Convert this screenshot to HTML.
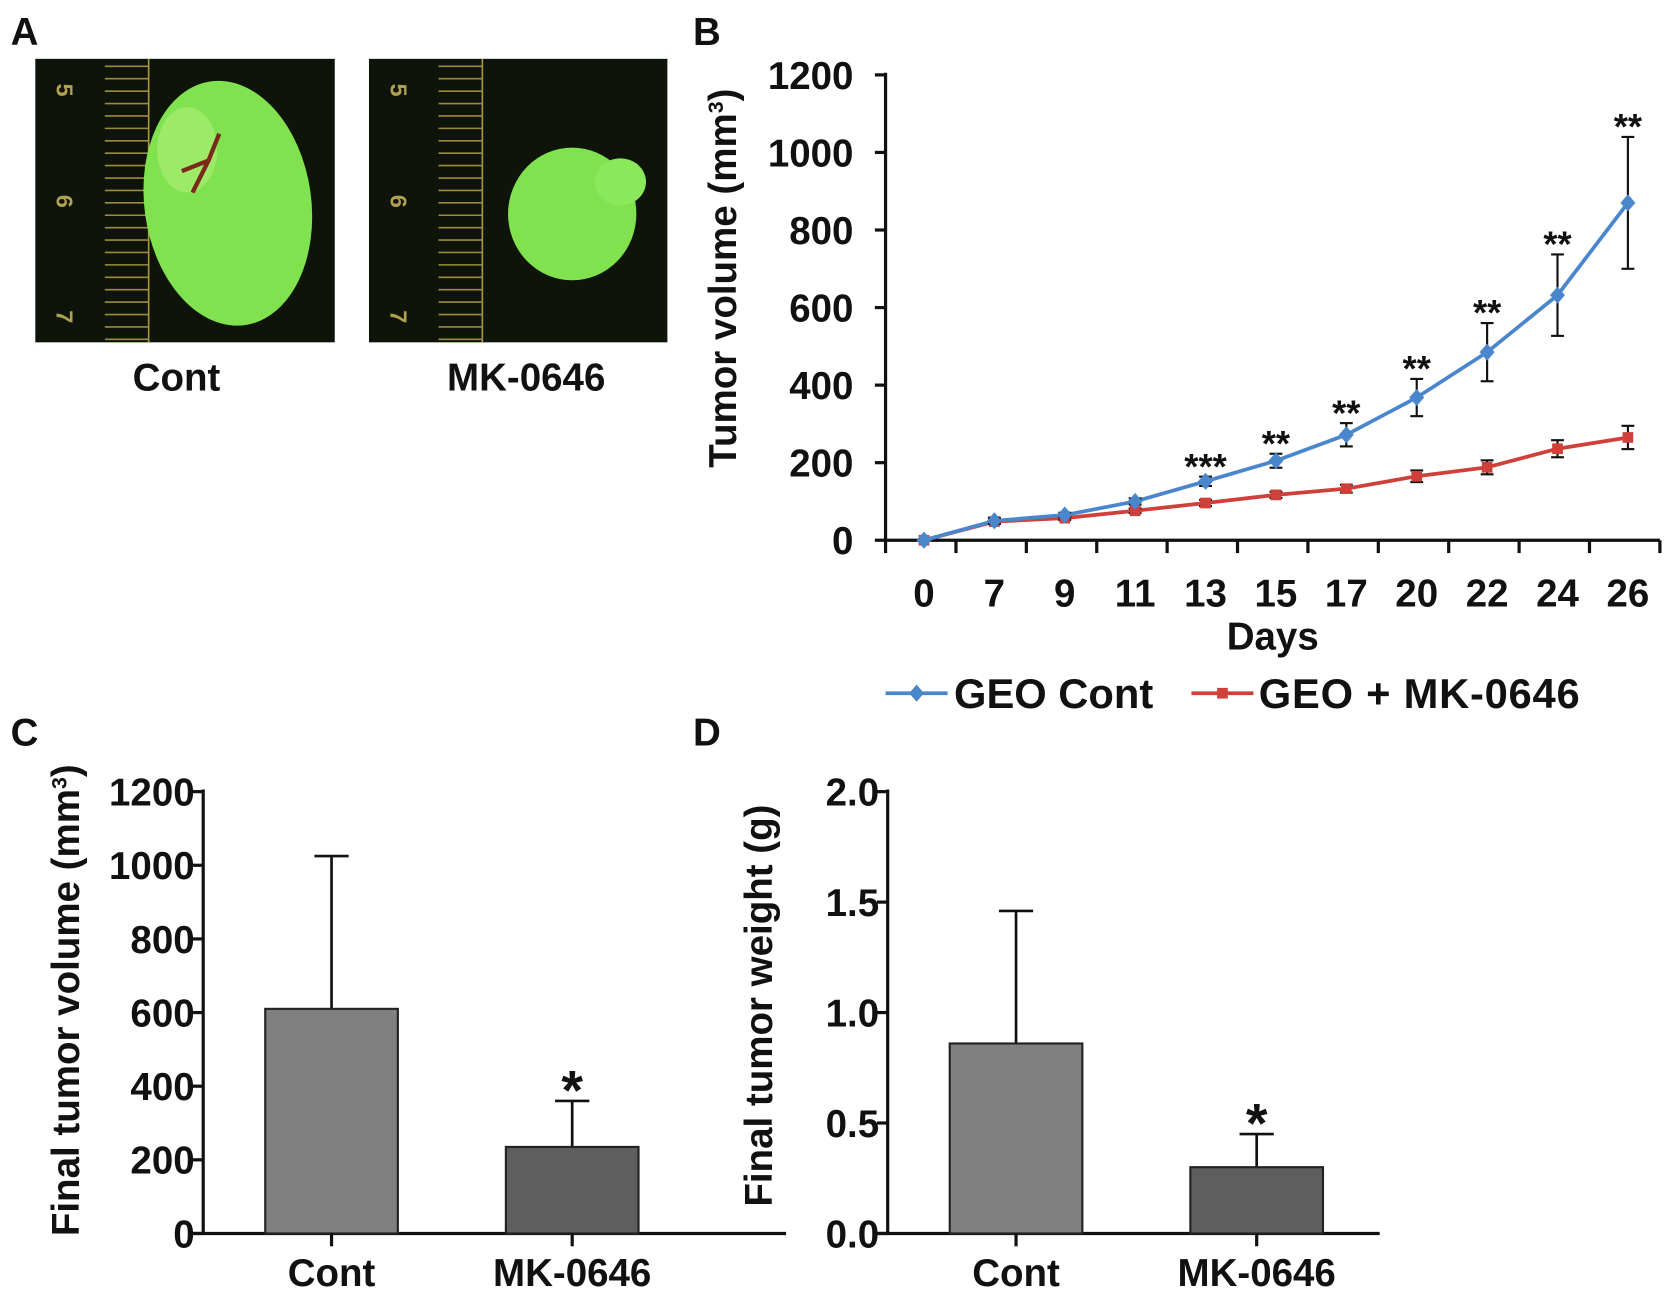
<!DOCTYPE html>
<html><head><meta charset="utf-8"><style>
html,body{margin:0;padding:0;background:#fff}
svg{display:block}
text{font-family:"Liberation Sans",Arial,sans-serif;font-weight:bold;fill:#111}
</style></head><body>
<svg id="fig" width="1677" height="1303" viewBox="0 0 1568 1218" preserveAspectRatio="none" xmlns="http://www.w3.org/2000/svg">
<g font-size="36">
<text x="10" y="42">A</text>
<text x="648" y="42">B</text>
<text x="10" y="697">C</text>
<text x="648" y="697">D</text>
</g>
<g>
<rect x="33" y="55" width="280" height="265" fill="#0f140b"/>
<g id="ruler1"></g>
<ellipse cx="213" cy="190" rx="78" ry="115" fill="#7fe24e" transform="rotate(-8 213 190)"/>
<ellipse cx="175" cy="140" rx="28" ry="40" fill="#b0f07a" opacity="0.6"/>
<path d="M180 180 L195 150 L205 125 M195 150 L170 160" stroke="#7a2a18" stroke-width="4" fill="none"/>
</g>
<g>
<rect x="345" y="55" width="279" height="265" fill="#0f140b"/>
<g id="ruler2"></g>
<ellipse cx="535" cy="200" rx="60" ry="62" fill="#7fe24e"/>
<ellipse cx="580" cy="170" rx="24" ry="22" fill="#8ae85a"/>
</g>
<text x="165" y="365" font-size="36" text-anchor="middle">Cont</text>
<text x="492" y="365" font-size="36" text-anchor="middle">MK-0646</text>
<g id="chartB"></g>
<g id="chartC"></g>
<g id="chartD"></g>
</svg>
<script>
const days = ["0","7","9","11","13","15","17","20","22","24","26"];
const contVals = [0,50,65,100,152,205,272,368,485,632,870];
const contErr = [0,8,6,8,12,18,30,48,75,105,170];
const mkVals = [0,48,57,76,96,117,133,165,188,236,265];
const mkErr = [0,6,5,6,8,8,10,15,18,22,30];
const stars = ["","","","","***","**","**","**","**","**","**"];
const bTicks = [0,200,400,600,800,1000,1200];
const cCats = ["Cont","MK-0646"];
const cVals = [610,235];
const cErrs = [415,125];
const cStars = ["","*"];
const cTicks = [0,200,400,600,800,1000,1200];
const dVals = [0.86,0.30];
const dErrs = [0.60,0.15];
const dStars = ["","*"];
const dTicks = ["0.0","0.5","1.0","1.5","2.0"];

const NS="http://www.w3.org/2000/svg";
function mk(p,tag,attrs,txt){const e=document.createElementNS(NS,tag);for(const k in attrs)e.setAttribute(k,attrs[k]);if(txt!==undefined)e.textContent=txt;p.appendChild(e);return e;}

[[document.getElementById('ruler1'),33],[document.getElementById('ruler2'),345]].forEach(([g,x0])=>{
  mk(g,'line',{x1:x0+106,y1:55,x2:x0+106,y2:320,stroke:'#a89a40','stroke-width':1.5});
  for(let y=62;y<320;y+=11.6){mk(g,'line',{x1:x0+65,y1:y,x2:x0+106,y2:y,stroke:'#9a8c3a','stroke-width':1.5});}
  mk(g,'text',{x:x0+20,y:78,'font-size':22,style:'fill:#b0a050',transform:`rotate(90 ${x0+20} 78)`},'5');
  mk(g,'text',{x:x0+20,y:182,'font-size':22,style:'fill:#b0a050',transform:`rotate(90 ${x0+20} 182)`},'6');
  mk(g,'text',{x:x0+20,y:290,'font-size':22,style:'fill:#b0a050',transform:`rotate(90 ${x0+20} 290)`},'7');
});

(function(){
const g=document.getElementById('chartB');
const X0=828,X1=1552,Y0=505,Y1=70;
const band=(X1-X0)/days.length;
const x=i=>X0+band*(i+0.5)+3;
const y=v=>Y0-(v/1200)*(Y0-Y1);
let a=mk(g,'line',{x1:X0,y1:y(1200)-2,x2:X0,y2:Y0,stroke:'#111','stroke-width':3});

a=mk(g,'line',{x1:X0,y1:Y0,x2:X1,y2:Y0,stroke:'#111','stroke-width':3});

bTicks.forEach(t=>{mk(g,'line',{x1:X0-10,y1:y(t),x2:X0,y2:y(t),stroke:'#111','stroke-width':3});
 const e=mk(g,'text',{x:X0-30,y:y(t)+13,'font-size':36,'text-anchor':'end'},String(t));
 });
for(let i=0;i<=days.length;i++){const tx=X0+band*i;mk(g,'line',{x1:tx,y1:Y0,x2:tx,y2:Y0+12,stroke:'#111','stroke-width':3});}
days.forEach((d,i)=>{const e=mk(g,'text',{x:x(i),y:567,'font-size':36,'text-anchor':'middle'},d);
 });
let t=mk(g,'text',{x:1190,y:607,'font-size':36,'text-anchor':'middle'},'Days');

t=mk(g,'text',{x:0,y:0,'font-size':36,'text-anchor':'middle',transform:'translate(688 260) rotate(-90)'});

t.innerHTML='Tumor volume (mm<tspan dy="-12" font-size="20">3</tspan><tspan dy="12">)</tspan>';
function series(vals,errs,col,name,marker){
 const pts=vals.map((v,i)=>x(i)+','+y(v)).join(' ');
 const l=mk(g,'polyline',{points:pts,fill:'none',stroke:col,'stroke-width':3.5});
 
 vals.forEach((v,i)=>{if(errs[i]>0){const hi=y(v+errs[i]),lo=y(v-errs[i]);
  mk(g,'line',{x1:x(i),y1:hi,x2:x(i),y2:lo,stroke:'#111','stroke-width':2});
  mk(g,'line',{x1:x(i)-6,y1:hi,x2:x(i)+6,y2:hi,stroke:'#111','stroke-width':2});
  mk(g,'line',{x1:x(i)-6,y1:lo,x2:x(i)+6,y2:lo,stroke:'#111','stroke-width':2});}
  let m;
  if(marker==='d'){m=mk(g,'polygon',{points:`${x(i)},${y(v)-8} ${x(i)+7},${y(v)} ${x(i)},${y(v)+8} ${x(i)-7},${y(v)}`,fill:col});}
  else{m=mk(g,'rect',{x:x(i)-5,y:y(v)-5,width:10,height:10,fill:col});}
  });
}
series(mkVals,mkErr,'#d0403a','mk0646','s');
series(contVals,contErr,'#4a86cc','cont','d');
stars.forEach((s,i)=>{if(s){const e=mk(g,'text',{x:x(i),y:y(contVals[i]+contErr[i])+2,'font-size':34,'text-anchor':'middle'},s);
 }});
const lg=mk(g,'g',{});
mk(lg,'line',{x1:828,y1:648,x2:886,y2:648,stroke:'#4a86cc','stroke-width':3.5});
mk(lg,'polygon',{points:'857,640 864,648 857,656 850,648',fill:'#4a86cc'});
let le=mk(lg,'text',{x:892,y:662,'font-size':39},'GEO Cont');
mk(lg,'line',{x1:1114,y1:648,x2:1172,y2:648,stroke:'#d0403a','stroke-width':3.5});
mk(lg,'rect',{x:1138,y:643,width:10,height:10,fill:'#d0403a'});
le=mk(lg,'text',{x:1177,y:662,'font-size':39,textLength:300},'GEO + MK-0646');
})();

function barChart(id,X0,X1,first,step,vals,errs,st,ticks,max,title,titleX,titleY,isMM){
 const g=document.getElementById(id);
 const Y0=1153,Y1=740;
 const y=v=>Y0-(v/max)*(Y0-Y1);
 const cx=i=>first+step*i;
 let a=mk(g,'line',{x1:X0,y1:Y1-2,x2:X0,y2:Y0,stroke:'#111','stroke-width':3});
 
 a=mk(g,'line',{x1:X0-12,y1:Y0,x2:X1,y2:Y0,stroke:'#111','stroke-width':3});
 
 ticks.forEach(t=>{const v=parseFloat(t);mk(g,'line',{x1:X0-10,y1:y(v),x2:X0,y2:y(v),stroke:'#111','stroke-width':3});
  const e=mk(g,'text',{x:X0-8,y:y(v)+13,'font-size':36,'text-anchor':'end'},String(t));
  });
 const cols=['#808080','#5e5e5e'];
 vals.forEach((v,i)=>{
  const hi=y(v+errs[i]);
  mk(g,'line',{x1:cx(i),y1:hi,x2:cx(i),y2:y(v),stroke:'#111','stroke-width':2.5});
  mk(g,'line',{x1:cx(i)-16,y1:hi,x2:cx(i)+16,y2:hi,stroke:'#111','stroke-width':2.5});
  const b=mk(g,'rect',{x:cx(i)-62,y:y(v),width:124,height:Y0-y(v),fill:cols[i],stroke:'#222','stroke-width':2});
  
  mk(g,'line',{x1:cx(i),y1:Y0,x2:cx(i),y2:Y0+12,stroke:'#111','stroke-width':3});
  const l=mk(g,'text',{x:cx(i),y:1202,'font-size':36,'text-anchor':'middle'},cCats[i]);
  
  if(st[i]){const s=mk(g,'text',{x:cx(i),y:hi+8,'font-size':52,'text-anchor':'middle'},st[i]);
   }
 });
 const t=mk(g,'text',{x:0,y:0,'font-size':36,'text-anchor':'middle',transform:`translate(${titleX} ${titleY}) rotate(-90)`});
 
 if(isMM)t.innerHTML=title+' (mm<tspan dy="-12" font-size="20">3</tspan><tspan dy="12">)</tspan>';else t.textContent=title;
}
barChart('chartC',190,735,310,225,cVals,cErrs,cStars,cTicks,1200,'Final tumor volume',74,935,true);
barChart('chartD',830,1290,950,225,dVals,dErrs,dStars,dTicks,2.0,'Final tumor weight (g)',722,940,false);
</script>
</body></html>
